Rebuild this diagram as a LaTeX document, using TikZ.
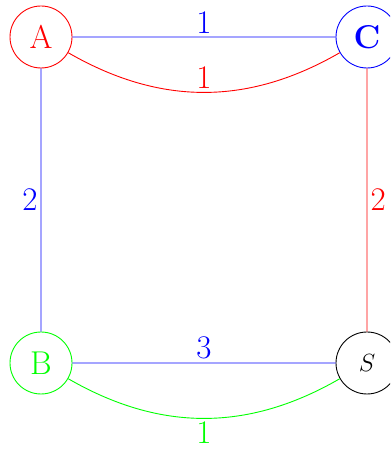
\documentclass[tikz,border=0pt]{standalone}
\usepackage{tikz}
\definecolor{cblue}{RGB}{0,0,255}
\definecolor{cred}{RGB}{255,0,0}
\definecolor{cgreen}{RGB}{0,255,0}
\begin{document}
\begin{tikzpicture}[x=1pt,y=1pt,
  every node/.style={font=\fontsize{33}{40}\selectfont},
  vertex/.style={circle,draw,line width=0.9pt,minimum size=62pt,inner sep=0pt},
  link/.style={line width=0.9pt}]
\useasboundingbox (0,0) rectangle (390,454);
\begin{scope}
\clip (0,0) rectangle (390,454);
\node[vertex,draw=cred,text=cred] (A) at (41,417) {A};
\node[vertex,draw=cblue,text=cblue] (C) at (367,417) {\textbf{C}};
\node[vertex,draw=cgreen,text=cgreen] (B) at (41,91) {B};
\node[vertex,draw=black] (S) at (367,91) {$S$};
\draw[link,draw=cblue] (A) to[bend left=0.01] (C);
\draw[link,draw=cred] (A) to[bend right=30] (C);
\draw[link,draw=cblue] (A) to[bend left=0.01] (B);
\draw[link,draw=cred] (C) to[bend left=0.01] (S);
\draw[link,draw=cblue] (B) to[bend left=0.01] (S);
\draw[link,draw=cgreen] (B) to[bend right=30] (S);
\path[text=cblue] (A) -- node[midway,above] (lac) {1} (C);
\path[text=cred] (A) to[bend right=30] node[midway,above] (lac2) {1} (C);
\path[text=cblue] (A) -- node[midway,left] (lab) {2} (B);
\path[text=cred] (C) -- node[midway,right] (lcs) {2} (S);
\path[text=cblue] (B) -- node[midway,above] (lbs) {3} (S);
\path[text=cgreen] (B) to[bend right=30] node[midway,below] (lbs2) {1} (S);
\end{scope}
\end{tikzpicture}
\end{document}
